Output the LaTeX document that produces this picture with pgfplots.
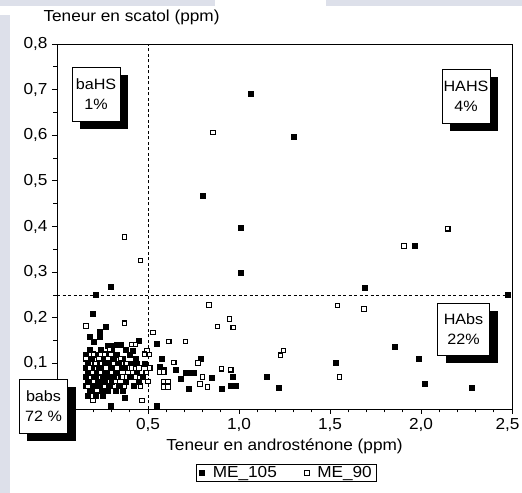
\documentclass[border=0pt]{standalone}
\usepackage{pgfplots}
\pgfplotsset{compat=1.18}
\usepackage{fontspec}
\setmainfont{Liberation Sans}[FakeStretch=1.08]
\usetikzlibrary{shadows}
\definecolor{bgband}{RGB}{221,224,234}

\pgfplotstableread{
x y
1.065 0.690
0.800 0.468
1.010 0.397
1.010 0.298
1.300 0.597
1.967 0.357
1.690 0.266
2.478 0.250
0.294 0.269
0.215 0.250
0.197 0.208
0.269 0.181
0.237 0.170
0.177 0.159
0.232 0.159
0.200 0.148
0.278 0.139
0.302 0.139
0.330 0.141
0.350 0.141
0.449 0.150
0.418 0.128
0.548 0.143
0.574 0.110
0.565 0.092
0.587 0.087
0.651 0.087
0.679 0.066
0.706 0.079
0.730 0.079
0.749 0.079
0.789 0.110
0.850 0.068
0.968 0.070
0.721 0.045
0.903 0.045
0.955 0.052
0.982 0.052
1.153 0.070
1.216 0.046
1.534 0.101
1.856 0.137
1.985 0.110
2.020 0.056
2.280 0.046
0.371 0.025
0.296 0.008
0.546 0.008
0.16 0.12
0.17 0.10
0.16 0.09
0.17 0.08
0.16 0.07
0.17 0.06
0.16 0.05
0.18 0.04
0.17 0.03
0.19 0.11
0.19 0.09
0.20 0.07
0.19 0.06
0.20 0.05
0.19 0.04
0.21 0.03
0.21 0.12
0.22 0.10
0.22 0.08
0.21 0.07
0.23 0.06
0.22 0.05
0.23 0.04
0.24 0.13
0.25 0.11
0.24 0.09
0.25 0.07
0.26 0.06
0.24 0.05
0.26 0.04
0.25 0.03
0.27 0.12
0.28 0.10
0.27 0.08
0.28 0.07
0.29 0.05
0.28 0.04
0.30 0.13
0.31 0.11
0.30 0.09
0.31 0.07
0.30 0.06
0.32 0.04
0.33 0.12
0.34 0.10
0.33 0.08
0.35 0.07
0.34 0.05
0.36 0.11
0.37 0.09
0.38 0.06
0.36 0.04
0.40 0.12
0.41 0.10
0.40 0.07
0.42 0.05
0.44 0.08
0.45 0.06
0.47 0.07
0.48 0.10
0.43 0.11
0.18 0.13
0.23 0.09
0.26 0.10
0.29 0.08
0.32 0.12
0.35 0.09
0.38 0.13
0.44 0.10
}\mefilled

\pgfplotstableread{
x y
0.857 0.606
0.371 0.377
0.458 0.326
2.147 0.395
1.906 0.357
1.540 0.227
1.687 0.219
0.835 0.228
0.949 0.197
0.881 0.181
0.968 0.179
0.614 0.148
0.706 0.148
0.528 0.168
0.371 0.188
0.160 0.182
0.408 0.141
0.430 0.141
0.495 0.128
0.508 0.119
0.642 0.102
0.774 0.101
0.563 0.081
0.587 0.081
0.799 0.070
0.785 0.055
0.826 0.048
0.903 0.088
0.955 0.086
0.585 0.060
0.610 0.060
0.585 0.048
0.610 0.048
1.227 0.118
1.245 0.128
1.552 0.070
0.197 0.019
0.467 0.019
0.16 0.11
0.18 0.09
0.17 0.05
0.20 0.12
0.21 0.10
0.20 0.06
0.22 0.04
0.23 0.11
0.24 0.08
0.26 0.12
0.27 0.09
0.26 0.05
0.28 0.11
0.29 0.13
0.30 0.08
0.31 0.10
0.32 0.06
0.33 0.09
0.35 0.11
0.36 0.07
0.37 0.05
0.38 0.10
0.39 0.08
0.41 0.09
0.43 0.07
0.45 0.09
0.46 0.05
0.49 0.08
0.50 0.06
0.51 0.09
0.48 0.12
}\meopen

\begin{document}
\begin{tikzpicture}[x=1bp,y=1bp]
\path[use as bounding box] (-57,-84) rectangle (465,409);
\fill[bgband] (-57,403) rectangle (158,409);
\fill[bgband] (269,403) rectangle (465,409);
\fill[bgband] (-57,-84) rectangle (-47,394);
\begin{axis}[
  at={(0,0)}, anchor=south west,
  scale only axis, width=455bp, height=365bp,
  xmin=0, xmax=2.5, ymin=0, ymax=0.8,
  xtick={0.5,1.0,1.5,2.0},
  extra x ticks={2.5},
  extra x tick style={xticklabel style={anchor=north east, xshift=11bp}},
  ytick={0.1,0.2,0.3,0.4,0.5,0.6,0.7,0.8},
  minor xtick={0.1,0.2,0.3,0.4,0.6,0.7,0.8,0.9,1.1,1.2,1.3,1.4,1.6,1.7,1.8,1.9,2.1,2.2,2.3,2.4},
  minor ytick={0.05,0.15,0.25,0.35,0.45,0.55,0.65,0.75},
  tick pos=left, tick align=outside,
  major tick length=5bp, minor tick length=3.5bp,
  every tick/.style={black, line width=0.8bp},
  axis line style={line width=0.9bp},
  /pgf/number format/assume math mode=true,
  /pgf/number format/use comma,
  /pgf/number format/fixed,
  /pgf/number format/fixed zerofill,
  /pgf/number format/precision=1,
  tick label style={font=\fontsize{16}{18}\selectfont},
  xticklabel style={yshift=-1bp},
  yticklabel style={xshift=-1bp},
  xlabel={Teneur en androsténone (ppm)},
  every axis x label/.style={at={(rel axis cs:0.5,0)}, anchor=base, yshift=-41bp, font=\fontsize{16}{18}\selectfont},
  ylabel={Teneur en scatol (ppm)},
  every axis y label/.style={at={(rel axis cs:0,1)}, anchor=base west, xshift=-17bp, yshift=22bp, font=\fontsize{16}{18}\selectfont},
  legend columns=2,
  legend style={at={(rel axis cs:0.505,-0.175)}, anchor=center, draw=black, line width=0.8bp,
    font=\fontsize{16}{18}\selectfont, inner ysep=0.5bp, inner xsep=3bp,
    /tikz/every odd column/.append style={column sep=6bp},
    /tikz/every even column/.append style={column sep=26bp}},
  legend image code/.code={\draw[#1] (4bp,0bp) -- plot coordinates {(4bp,0bp)};},
]
\draw[dash pattern=on 3bp off 2.5bp, line width=0.8bp] (axis cs:0.5,0) -- (axis cs:0.5,0.8);
\draw[dash pattern=on 3bp off 2.5bp, line width=0.8bp] (axis cs:0,0.25) -- (axis cs:2.5,0.25);
\addplot[only marks, mark=square*, mark size=2.5bp, mark options={fill=black, draw=black}] table {\mefilled};
\addlegendentry{ME\_105}
\addplot[only marks, mark=square*, mark size=2.2bp, mark options={fill=white, draw=black, line width=1.1bp}] table {\meopen};
\addlegendentry{ME\_90}
\end{axis}
\tikzset{qbox/.style={draw=black, fill=white, line width=0.7bp, align=center, inner sep=0pt,
  minimum width=48bp, minimum height=54bp, font=\fontsize{15}{20}\selectfont,
  drop shadow={shadow xshift=8bp, shadow yshift=-8bp, fill=black, opacity=1}}}
\node[qbox] at (39,314.5) {baHS\\1\%};
\node[qbox] at (409,313) {HAHS\\4\%};
\node[qbox, minimum width=52bp, minimum height=52bp] at (406.5,80) {HAbs\\22\%};
\node[qbox] at (-13.5,2.5) {babs\\72 \%};
\end{tikzpicture}
\end{document}
